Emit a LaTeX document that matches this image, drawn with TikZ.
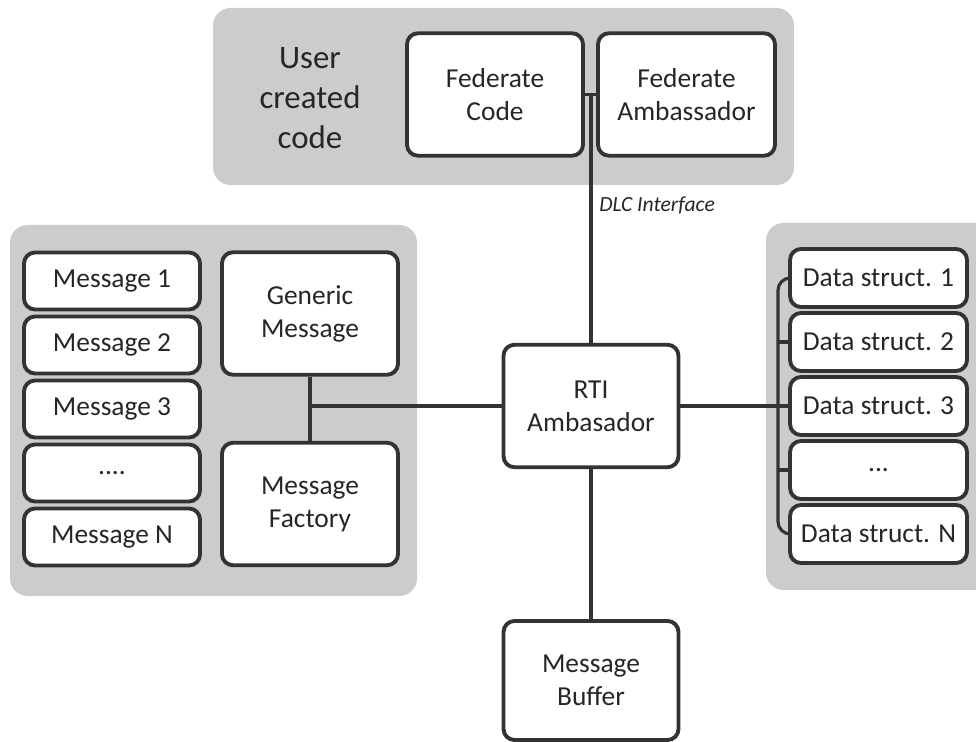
\documentclass[tikz,border=0pt]{standalone}
\usepackage{fontspec}
\setmainfont{Carlito}
\usepackage{xcolor}
\usetikzlibrary{positioning, calc}
\definecolor{grpgray}{HTML}{CCCCCC}
\definecolor{edgegray}{HTML}{333333}
\definecolor{txtgray}{HTML}{262626}
\newcommand{\blockfont}{\fontsize{15.6}{18.8}\selectfont}
\newcommand{\userfont}{\fontsize{18.7}{22.8}\selectfont}
\newcommand{\notefont}{\fontsize{12.3}{14.8}\selectfont\itshape}

\begin{document}
\begin{tikzpicture}[
  x=0.02cm, y=-0.02cm,
  every node/.style={font=\blockfont, text=txtgray},
  groupbg/.style={fill=grpgray, rounded corners=10},
  bigblock/.style={rectangle, rounded corners=0.22cm, draw=edgegray, fill=white, line width=2.2pt, minimum width=3.52cm, minimum height=2.45cm, align=center},
  msgblock/.style={rectangle, rounded corners=0.22cm, draw=edgegray, fill=white, line width=2.2pt, minimum width=3.52cm, minimum height=1.14cm, align=center},
  dsblock/.style={rectangle, rounded corners=0.22cm, draw=edgegray, fill=white, line width=2.2pt, minimum width=3.54cm, minimum height=1.16cm, align=center},
  link/.style={draw=edgegray, line width=1.8pt},
]
\useasboundingbox (0,0) rectangle (976,742);

% group backgrounds
\fill[groupbg] (213,8) rectangle (794,185);
\fill[groupbg] (10,225) rectangle (417,596);
\fill[groupbg] (766,223) rectangle (995,590);

% user code
\node[align=center, font=\userfont] (usertxt) at (310,98) {User\\created\\code};
\node[bigblock] (fedcode) at (495,94.5) {Federate\\Code};
\node[bigblock, minimum width=3.54cm] (fedamb) at (686.5,94.5) {Federate\\Ambassador};

% core
\node[bigblock, minimum width=3.5cm] (rti) at (591,406) {RTI\\Ambasador};
\node[bigblock, minimum width=3.5cm, minimum height=2.38cm] (buffer) at (591,680.5) {Message\\Buffer};

% messages
\node[msgblock] (msg1) at (112,281) {Message 1};
\node[msgblock] (msg2) at (112,345) {Message 2};
\node[msgblock] (msg3) at (112,409) {Message 3};
\node[msgblock] (msg4) at (112,473) {....};
\node[msgblock] (msgN) at (112,537) {Message N};
\node[bigblock] (generic) at (310,313.5) {Generic\\Message};
\node[bigblock] (factory) at (310,504) {Message\\Factory};

% data structures
\node[dsblock] (ds1) at (878.5,278) {Data struct. 1};
\node[dsblock] (ds2) at (878.5,342) {Data struct. 2};
\node[dsblock] (ds3) at (878.5,406) {Data struct. 3};
\node[dsblock] (ds4) at (878.5,470) {...};
\node[dsblock] (dsN) at (878.5,534) {Data struct. N};

% links
\coordinate (dlc) at (fedcode.east -| rti);
\coordinate (msgjoin) at (generic |- rti);
\coordinate (dsbus) at (778,406);
\draw[link] (fedcode) -- (fedamb);
\draw[link] (rti) -- (dlc);
\node[font=\notefont, anchor=west, inner sep=0pt] (dlctxt) at (599,205) {DLC Interface};
\draw[link] (generic) -- (factory);
\draw[link] (msgjoin) -- (rti);
\draw[link] (rti) -- (buffer);
\draw[link] (rti) -- (ds3);
\draw[link, rounded corners=7] (ds1.west) -| (dsbus) |- (dsN.west);
\draw[link] (ds2.west) -- (ds2.west -| dsbus);
\draw[link] (ds4.west) -- (ds4.west -| dsbus);
\end{tikzpicture}
\end{document}
